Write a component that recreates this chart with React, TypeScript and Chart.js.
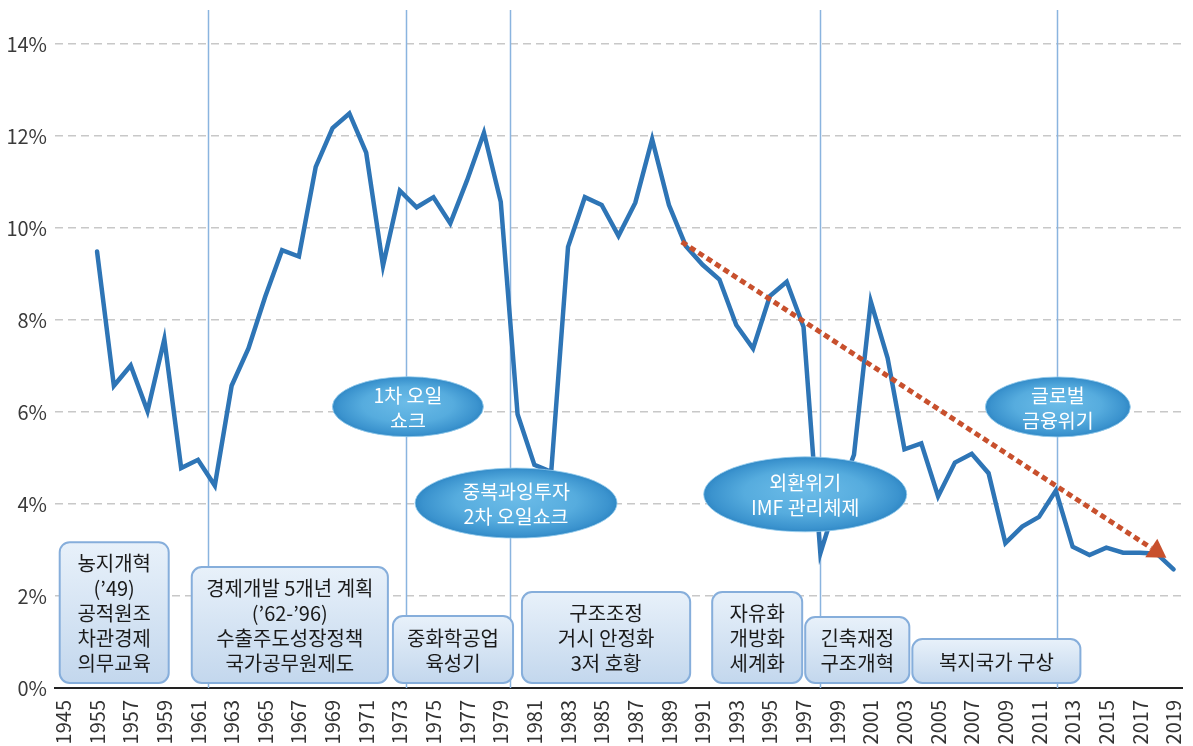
import React, { useEffect, useRef } from 'react';
import { Chart, registerables } from 'chart.js';

Chart.register(...registerables);

// ---- data ----
const categories: string[] = [
  '1945', '',
  '1955', '1956', '1957', '1958', '1959', '1960', '1961', '1962', '1963', '1964',
  '1965', '1966', '1967', '1968', '1969', '1970', '1971', '1972', '1973', '1974',
  '1975', '1976', '1977', '1978', '1979', '1980', '1981', '1982', '1983', '1984',
  '1985', '1986', '1987', '1988', '1989', '1990', '1991', '1992', '1993', '1994',
  '1995', '1996', '1997', '1998', '1999', '2000', '2001', '2002', '2003', '2004',
  '2005', '2006', '2007', '2008', '2009', '2010', '2011', '2012', '2013', '2014',
  '2015', '2016', '2017', '2018', '2019',
];

const growth: (number | null)[] = [
  null, null,
  9.49, 6.57, 7.01, 6.02, 7.58, 4.78, 4.96, 4.40, 6.57, 7.38,
  8.51, 9.52, 9.38, 11.33, 12.17, 12.49, 11.64, 9.18, 10.81, 10.45,
  10.67, 10.10, 11.04, 12.07, 10.57, 5.95, 4.85, 4.70, 9.59, 10.67,
  10.50, 9.83, 10.55, 11.93, 10.50, 9.61, 9.20, 8.88, 7.89, 7.38,
  8.52, 8.83, 7.85, 2.93, 4.10, 5.07, 8.40, 7.17, 5.19, 5.32,
  4.17, 4.90, 5.09, 4.67, 3.15, 3.51, 3.72, 4.29, 3.07, 2.89,
  3.05, 2.94, 2.94, 2.92, 2.58,
];

const yTicks: number[] = [0, 2, 4, 6, 8, 10, 12, 14];

// period separators (category position)
const markerLines: number[] = [8.61, 20.36, 26.55, 44.99, 59.09];
const markerTop = 14.74;

// trend arrow: [category position, value]
const trendFrom: [number, number] = [36.76, 9.70];
const trendTo: [number, number] = [65.57, 2.83];

// event ellipses: [category position, value, width px, height px, text]
const eventLabels: [number, number, number, number, string[]][] = [
  [20.48, 6.115, 151, 60, ['1차 오일', '쇼크']],
  [26.91, 4.02, 202, 70, ['중복과잉투자', '2차 오일쇼크']],
  [44.1, 4.21, 203, 75, ['외환위기', 'IMF 관리체제']],
  [59.12, 6.11, 145, 60, ['글로벌', '금융위기']],
];

// policy boxes: [from pos, to pos, top value, bottom value, text]
const policyBoxes: [number, number, number, number, string[]][] = [
  [-0.22, 6.26, 3.17, 0.11, ['농지개혁', '(\u201949)', '공적원조', '차관경제', '의무교육']],
  [7.63, 19.29, 2.63, 0.11, ['경제개발 5개년 계획', '(\u201962-\u201996)', '수출주도성장정책', '국가공무원제도']],
  [19.59, 26.73, 1.565, 0.11, ['중화학공업', '육성기']],
  [27.26, 37.26, 2.087, 0.11, ['구조조정', '거시 안정화', '3저 호황']],
  [38.57, 43.92, 2.087, 0.11, ['자유화', '개방화', '세계화']],
  [44.1, 50.29, 1.543, 0.11, ['긴축재정', '구조개혁']],
  [50.47, 60.46, 1.065, 0.11, ['복지국가 구상']],
];

const FONT = '"Noto Sans CJK KR", "Noto Sans", sans-serif';

const overlayPlugin = {
  id: 'overlays',
  beforeDatasetsDraw(chart: any) {
    const { ctx, scales } = chart;
    const x = scales.x, y = scales.y;
    ctx.save();
    ctx.strokeStyle = '#8ab4df';
    ctx.lineWidth = 1.5;
    for (const v of markerLines) {
      const px = Math.round(x.getPixelForValue(v)) + 0.5;
      ctx.beginPath();
      ctx.moveTo(px, y.getPixelForValue(markerTop));
      ctx.lineTo(px, y.getPixelForValue(0));
      ctx.stroke();
    }
    ctx.restore();
  },
  afterDatasetsDraw(chart: any) {
    const { ctx, scales } = chart;
    const x = scales.x, y = scales.y;

    // trend arrow
    ctx.save();
    const sx = x.getPixelForValue(trendFrom[0]);
    const sy = y.getPixelForValue(trendFrom[1]);
    const ex = x.getPixelForValue(trendTo[0]);
    const ey = y.getPixelForValue(trendTo[1]);
    const dx = ex - sx, dy = ey - sy;
    const len = Math.hypot(dx, dy);
    const ux = dx / len, uy = dy / len;
    const headLen = 18, headHalf = 11;
    const bx = ex - ux * headLen, by = ey - uy * headLen;
    ctx.strokeStyle = '#C8502D';
    ctx.fillStyle = '#C8502D';
    ctx.lineWidth = 5;
    ctx.setLineDash([6, 4]);
    ctx.beginPath();
    ctx.moveTo(sx, sy);
    ctx.lineTo(bx, by);
    ctx.stroke();
    ctx.setLineDash([]);
    ctx.beginPath();
    ctx.moveTo(ex, ey);
    ctx.lineTo(bx - uy * headHalf, by + ux * headHalf);
    ctx.lineTo(bx + uy * headHalf, by - ux * headHalf);
    ctx.closePath();
    ctx.fill();
    ctx.restore();

    // policy boxes
    for (const [p0, p1, vt, vb, lines] of policyBoxes) {
      const l = x.getPixelForValue(p0);
      const r = x.getPixelForValue(p1);
      const t = y.getPixelForValue(vt);
      const b = y.getPixelForValue(vb);
      ctx.save();
      const g = ctx.createLinearGradient(0, t, 0, b);
      g.addColorStop(0, '#e8f1fa');
      g.addColorStop(1, '#c3d7ed');
      ctx.fillStyle = g;
      ctx.strokeStyle = '#86aedb';
      ctx.lineWidth = 2;
      ctx.beginPath();
      (ctx as any).roundRect(l, t, r - l, b - t, 10);
      ctx.fill();
      ctx.stroke();
      ctx.fillStyle = '#1a1a1a';
      ctx.font = `20px ${FONT}`;
      ctx.textAlign = 'center';
      ctx.textBaseline = 'middle';
      const cx = (l + r) / 2, cy = (t + b) / 2;
      const lh = 25;
      lines.forEach((s, i) => {
        ctx.fillText(s, cx, cy + (i - (lines.length - 1) / 2) * lh + 1);
      });
      ctx.restore();
    }

    // event ellipses
    for (const [p, v, w, h, lines] of eventLabels) {
      const cx = x.getPixelForValue(p);
      const cy = y.getPixelForValue(v);
      ctx.save();
      ctx.translate(cx, cy);
      ctx.save();
      ctx.scale(1, h / w);
      const g = ctx.createRadialGradient(0, -w * 0.08, 0, 0, 0, w / 2);
      g.addColorStop(0, '#6cbce8');
      g.addColorStop(0.6, '#56acde');
      g.addColorStop(0.92, '#3b93ce');
      g.addColorStop(1, '#3189c6');
      ctx.fillStyle = g;
      ctx.beginPath();
      ctx.arc(0, 0, w / 2, 0, Math.PI * 2);
      ctx.fill();
      ctx.restore();
      ctx.strokeStyle = 'rgba(150,205,238,0.8)';
      ctx.lineWidth = 1;
      ctx.beginPath();
      ctx.ellipse(0, 0, w / 2, h / 2, 0, 0, Math.PI * 2);
      ctx.stroke();
      ctx.fillStyle = '#ffffff';
      ctx.font = `19.5px ${FONT}`;
      ctx.textAlign = 'center';
      ctx.textBaseline = 'middle';
      const lh = 25;
      lines.forEach((s, i) => {
        ctx.fillText(s, 0, (i - (lines.length - 1) / 2) * lh + 1);
      });
      ctx.restore();
    }
  },
};

export default function App() {
  const ref = useRef<HTMLCanvasElement | null>(null);

  useEffect(() => {
    if (!ref.current) return;
    Chart.defaults.font.family = FONT;
    const chart = new Chart(ref.current, {
      type: 'line',
      data: {
        labels: categories,
        datasets: [
          {
            data: growth,
            borderColor: '#2E75B6',
            borderWidth: 4.5,
            pointRadius: 0,
            tension: 0,
            fill: false,
            borderJoinStyle: 'miter',
            borderCapStyle: 'round',
          },
        ],
      },
      options: {
        animation: false,
        responsive: true,
        maintainAspectRatio: false,
        layout: { padding: { top: 44, right: 11, left: 0, bottom: 0 } },
        plugins: {
          legend: { display: false },
          tooltip: { enabled: false },
        },
        scales: {
          x: {
            type: 'category',
            offset: true,
            grid: { display: false, drawTicks: false },
            border: { display: true, color: '#222222', width: 2 },
            ticks: {
              autoSkip: false,
              minRotation: 90,
              maxRotation: 90,
              padding: 12,
              color: '#333333',
              font: { size: 20, family: FONT },
              callback: (_v: any, i: number) => (i % 2 === 0 ? categories[i] : ''),
            },
            afterFit: (s: any) => {
              s.height = 58;
              s.paddingLeft = 0;
              s.paddingRight = 0;
            },
          },
          y: {
            min: 0,
            max: 14,
            afterBuildTicks: (s: any) => {
              s.ticks = yTicks.map((v) => ({ value: v }));
            },
            grid: {
              drawTicks: false,
              color: (c: any) => (c.tick && c.tick.value === 0 ? 'rgba(0,0,0,0)' : '#c8c8c8'),
              lineWidth: 1.5,
            },
            border: { display: false, dash: [8, 5] },
            ticks: {
              padding: 8,
              color: '#3a3a3a',
              font: { size: 20, family: FONT },
              callback: (v: any) => `${v}%`,
            },
            afterFit: (s: any) => {
              s.width = 55;
              s.paddingTop = 0;
              s.paddingBottom = 0;
            },
          },
        },
      },
      plugins: [overlayPlugin],
    });
    return () => chart.destroy();
  }, []);

  return (
    <div style={{ position: 'fixed', left: 0, top: 0, width: 1193, height: 746, background: '#ffffff' }}>
      <canvas ref={ref} />
    </div>
  );
}
